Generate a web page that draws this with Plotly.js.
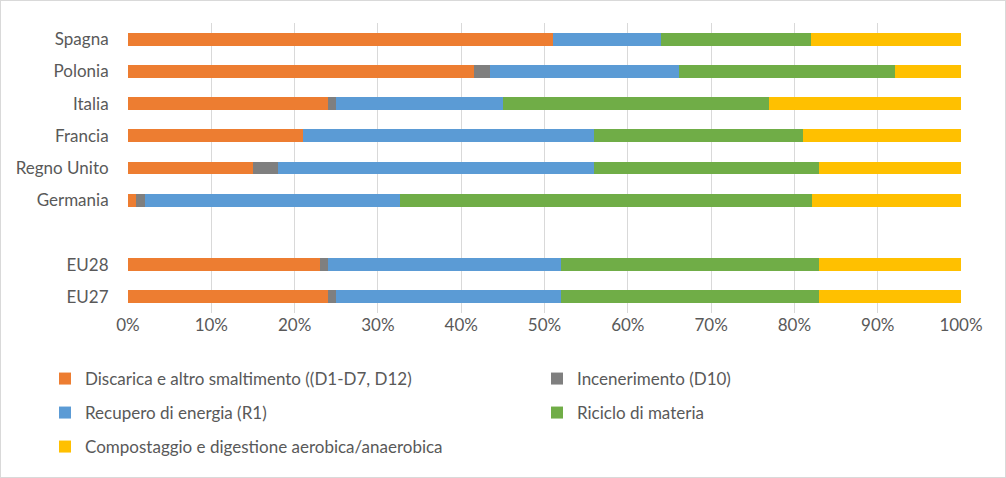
<!DOCTYPE html>
<html>
<head>
<meta charset="utf-8">
<script src="https://cdn.plot.ly/plotly-3.0.1.min.js"></script>
<style>
html,body{margin:0;padding:0;background:#fff;}
#frame{position:absolute;left:0;top:0;width:1004px;height:476px;border:1px solid #d9d9d9;}
#chart{width:1004px;height:476px;}
</style>
</head>
<body>
<div id="frame"><div id="chart"></div></div>
<script>
// Categories (bottom to top); the blank entry is the gap row
const categories = ['EU27', 'EU28', ' ', 'Germania', 'Regno Unito', 'Francia', 'Italia', 'Polonia', 'Spagna'];

// Shares (%) per category, same order as categories
const discarica   = [24, 23, null, 1,    15, 21, 24, 41.5, 51];
const incenerim   = [1,  1,  null, 1,    3,  0,  1,  1.9,  0];
const recupero    = [27, 28, null, 30.6, 38, 35, 20, 22.8, 13];
const riciclo     = [31, 31, null, 49.5, 27, 25, 32, 25.9, 18];
const compost     = [17, 17, null, 17.9, 17, 19, 23, 7.9,  18];

const seriesNames = [
  'Discarica e altro smaltimento ((D1-D7, D12)',
  'Incenerimento (D10)',
  'Recupero di energia (R1)',
  'Riciclo di materia',
  'Compostaggio e digestione aerobica/anaerobica'
];
const xTickVals = [0, 10, 20, 30, 40, 50, 60, 70, 80, 90, 100];
const xTickText = ['0%', '10%', '20%', '30%', '40%', '50%', '60%', '70%', '80%', '90%', '100%'];

const colors = ['#ED7D31', '#7F7F7F', '#5B9BD5', '#70AD47', '#FFC000'];
const legendIds = ['legend', 'legend2', 'legend3', 'legend4', 'legend5'];
const values = [discarica, incenerim, recupero, riciclo, compost];

const FONT = 'Lato, "Liberation Sans", sans-serif';
const FS = 17;

const traces = values.map((v, i) => ({
  type: 'bar',
  orientation: 'h',
  name: seriesNames[i],
  y: categories,
  x: v,
  marker: {color: colors[i], line: {width: 0}},
  legend: legendIds[i],
  hoverinfo: 'skip'
}));

function legendAt(xPix, yPix) {
  return {
    orientation: 'h',
    xref: 'container', yref: 'container',
    x: xPix / 1004, xanchor: 'left',
    y: 1 - yPix / 476, yanchor: 'middle',
    font: {family: FONT, size: FS, color: '#595959'},
    bgcolor: 'rgba(0,0,0,0)'
  };
}

const layout = {
  width: 1004, height: 476,
  margin: {l: 127, r: 44, t: 22, b: 164},
  paper_bgcolor: '#ffffff', plot_bgcolor: '#ffffff',
  barmode: 'stack',
  bargap: 0.6,
  hovermode: false,
  font: {family: FONT, size: FS, color: '#595959'},
  xaxis: {
    range: [0, 100],
    tickmode: 'array',
    tickvals: xTickVals,
    ticktext: xTickText,
    showgrid: true, gridcolor: '#d9d9d9', gridwidth: 1,
    zeroline: false, showline: false, ticks: '',
    tickfont: {family: FONT, size: FS, color: '#595959'},
    fixedrange: true
  },
  yaxis: {
    type: 'category',
    categoryorder: 'array', categoryarray: categories,
    range: [-0.5, categories.length - 0.5],
    showgrid: false, zeroline: false, showline: false,
    ticks: 'outside', ticklen: 15, tickcolor: 'rgba(0,0,0,0)',
    tickfont: {family: FONT, size: FS, color: '#595959'},
    fixedrange: true
  },
  legend:  legendAt(44, 378),
  legend2: legendAt(536, 378),
  legend3: legendAt(44, 412),
  legend4: legendAt(536, 412),
  legend5: legendAt(44, 446),
  showlegend: true
};

Plotly.newPlot('chart', traces, layout, {displayModeBar: false, staticPlot: true});
</script>
</body>
</html>
